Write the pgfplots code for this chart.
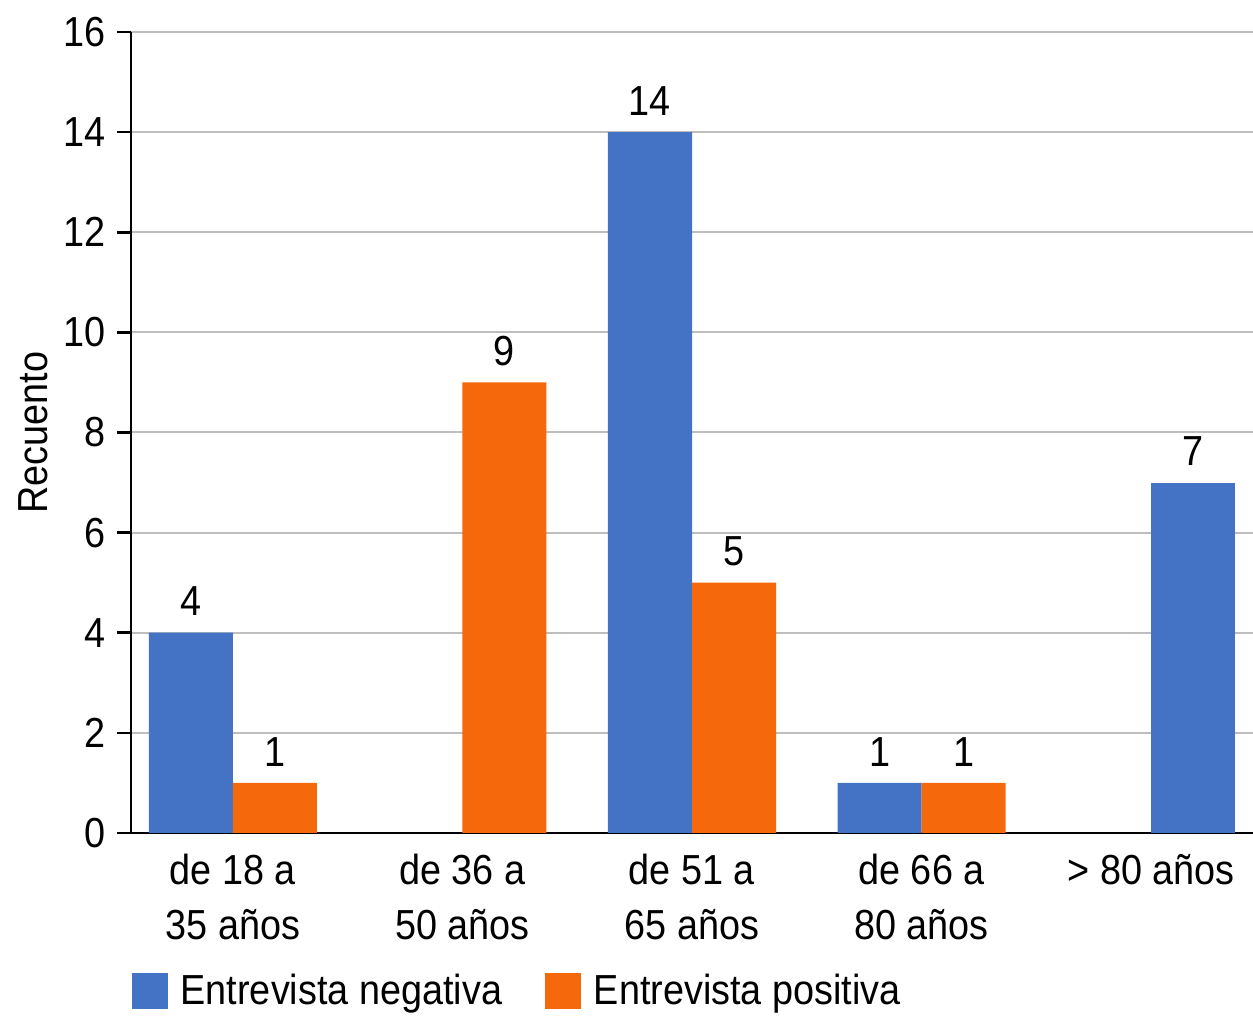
\documentclass[border=0pt]{standalone}
\usepackage{pgfplots}
\pgfplotsset{compat=1.18}
\usepackage{fontspec}
\setmainfont{Liberation Sans}[FakeStretch=0.9]
\definecolor{barblue}{RGB}{68,114,196}
\definecolor{barorange}{RGB}{246,104,12}
\definecolor{gridgray}{RGB}{190,190,190}
\newcommand{\cf}{\fontsize{12.6pt}{16.5pt}\selectfont}
\begin{document}
\begin{tikzpicture}[font=\cf]
\path[use as bounding box] (-39.3pt,-57.3pt) rectangle (336.6pt,249.9pt);
\begin{axis}[
  at={(0,0)}, anchor=south west,
  scale only axis,
  width=336.6pt, height=240.3pt,
  xmin=-0.444, xmax=4.444,
  ymin=0, ymax=16,
  ytick={0,2,...,16},
  xtick={0,1,2,3,4},
  xticklabels={{de 18 a\\35 años},{de 36 a\\50 años},{de 51 a\\65 años},{de 66 a\\80 años},{> 80 años}},
  xticklabel style={align=center, font=\cf, yshift=1.4pt},
  yticklabel style={font=\cf},
  /pgf/number format/assume math mode=true,
  axis x line*=bottom, axis y line*=left,
  axis line style={black, line width=0.8pt},
  x axis line style={-}, y axis line style={-},
  tick align=outside,
  major tick length=4.2pt,
  x tick style={draw=none},
  y tick style={black, line width=0.8pt},
  ymajorgrids,
  grid style={gridgray, line width=0.6pt},
  ylabel={Recuento},
  ylabel style={font=\cf, at={(axis description cs:-0.0873,0.5)}, anchor=center},
  ybar, bar width=0.366,
  nodes near coords,
  nodes near coords style={font=\cf, black, yshift=1.5pt},
  legend columns=2,
  legend style={draw=none, fill=none, font=\cf, at={(axis description cs:0,0)}, anchor=north west, yshift=-40pt, inner sep=0pt,
    /tikz/every even column/.append style={column sep=10.8pt},
    /tikz/every odd column/.append style={column sep=1.9pt}},
  legend cell align=left,
  legend image code/.code={\fill[#1] (0pt,-5.4pt) rectangle (10.8pt,5.4pt);},
]
\addplot[fill=barblue, draw=none, bar shift=-0.183] coordinates {(0,4) (2,14) (3,1)};
\addlegendentry{Entrevista negativa}
\addplot[fill=barorange, draw=none, bar shift=0.183] coordinates {(0,1) (1,9) (2,5) (3,1)};
\addlegendentry{Entrevista positiva}
\addplot[fill=barblue, draw=none, bar shift=0.183, forget plot] coordinates {(4,7)};
\end{axis}
\end{tikzpicture}
\end{document}
